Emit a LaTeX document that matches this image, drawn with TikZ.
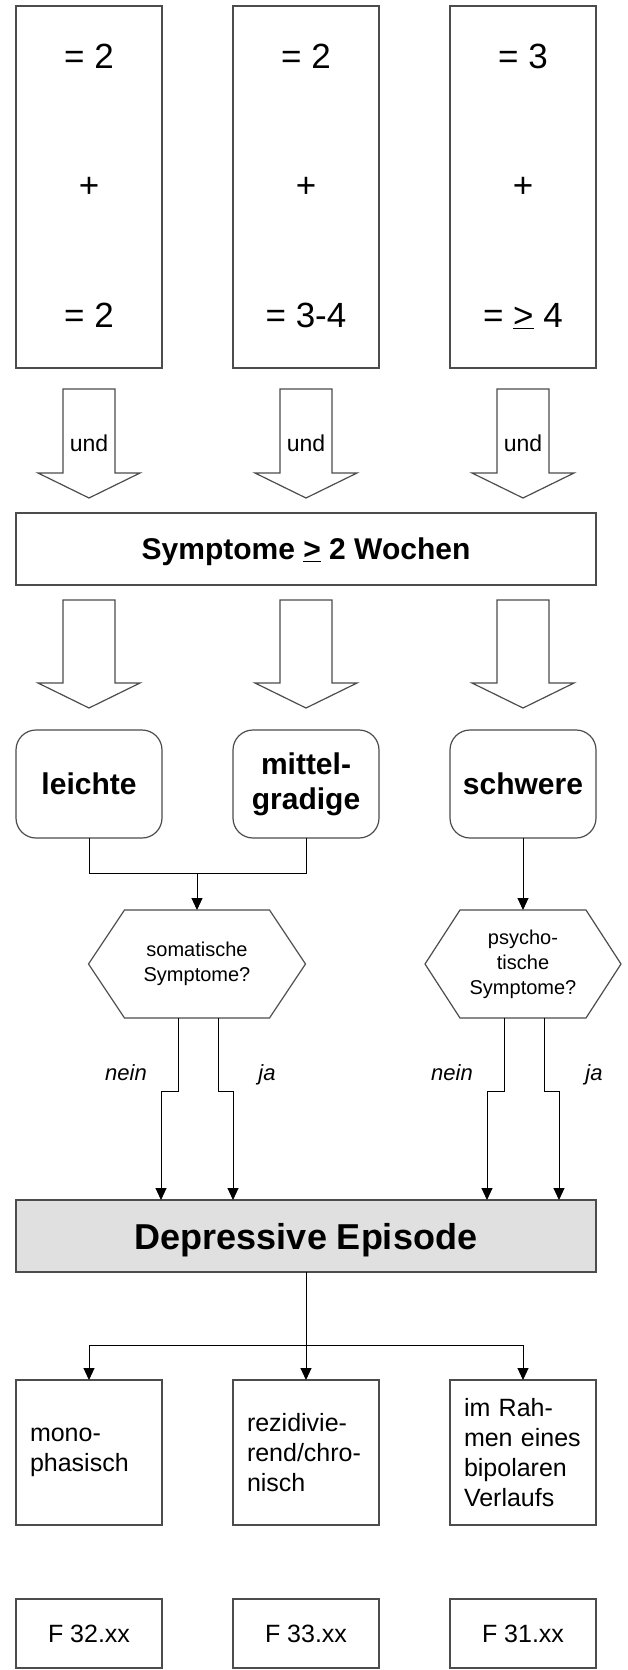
\documentclass[tikz,border=0pt]{standalone}
\usepackage{fontspec}
\setmainfont{Liberation Sans}
\usepackage{tikz}
\usetikzlibrary{arrows.meta}

% Hohlpfeil: x, oben, Kopfansatz, Spitze
\newcommand{\hohlpfeil}[4]{%
  \draw[umriss] ({#1-26},#2) -- ({#1+26},#2) -- ({#1+26},#3) -- ({#1+51},#3)
    -- (#1,#4) -- ({#1-51},#3) -- ({#1-26},#3) -- cycle;}

\tikzset{
  umriss/.style={draw=black!70, line width=1.2pt},
  kasten/.style={umriss, minimum width=146pt, inner sep=0pt, outer sep=0pt},
  zahl/.style={anchor=base, inner sep=0pt, font=\fontsize{35}{42}\selectfont},
  und/.style={inner sep=0pt, font=\fontsize{23}{28}\selectfont},
  titel/.style={font=\fontsize{30}{35}\selectfont\bfseries},
  rund/.style={kasten, titel, rounded corners=20pt, minimum height=108pt, align=center},
  frage/.style={inner sep=0pt, outer sep=0pt, minimum height=108pt, align=center,
    font=\fontsize{20}{25}\selectfont},
  antwort/.style={anchor=base, inner sep=0pt, font=\fontsize{22}{26}\selectfont\itshape},
  verlauf/.style={kasten, minimum height=145pt, text width=118pt, align=left,
    font=\fontsize{25}{30}\selectfont},
  kode/.style={kasten, minimum height=69pt, font=\fontsize{25}{30}\selectfont},
  linie/.style={draw=black, line width=1pt},
  pfeil/.style={linie, -{Triangle[length=12pt,width=11pt]}}
}

\begin{document}
\begin{tikzpicture}[x=1pt, y=-1pt]
\useasboundingbox (0,0) rectangle (628,1670);

% Kriterien
\node[kasten, minimum height=362pt] (k1) at (89,187) {};
\node[kasten, minimum height=362pt] (k2) at (306,187) {};
\node[kasten, minimum height=362pt] (k3) at (523,187) {};

\node[zahl] (k1o) at (89,68) {= 2};
\node[zahl] (k1m) at (89,197) {+};
\node[zahl] (k1u) at (89,327) {= 2};
\node[zahl] (k2o) at (306,68) {= 2};
\node[zahl] (k2m) at (306,197) {+};
\node[zahl] (k2u) at (306,327) {= 3-4};
\node[zahl] (k3o) at (523,68) {= 3};
\node[zahl] (k3m) at (523,197) {+};
\node[zahl] (k3u) at (523,327) {= \underline{>} 4};

% und-Pfeile
\hohlpfeil{89}{389}{473}{498}
\hohlpfeil{306}{389}{473}{498}
\hohlpfeil{523}{389}{473}{498}
\node[und] (u1) at (89,443) {und};
\node[und] (u2) at (306,443) {und};
\node[und] (u3) at (523,443) {und};

% Dauer
\node[kasten, titel, minimum width=580pt, minimum height=72pt, text depth=0pt]
  (dauer) at (306,549) {Symptome \underline{>} 2 Wochen};

\hohlpfeil{89}{600}{683}{708}
\hohlpfeil{306}{600}{683}{708}
\hohlpfeil{523}{600}{683}{708}

% Schweregrade
\node[rund] (leicht) at (89,784) {leichte};
\node[rund] (mittel) at (306,784) {mittel-\\gradige};
\node[rund] (schwer) at (523,784) {schwere};

% Fragen
\node[frage, minimum width=217pt] (h1) at (197,964) {somatische\\Symptome?};
\node[frage, minimum width=196pt] (h2) at (523,964) {psycho-\\tische\\Symptome?};
\draw[umriss] (h1.west) -- ([xshift=36pt]h1.north west) -- ([xshift=-36pt]h1.north east)
  -- (h1.east) -- ([xshift=-36pt]h1.south east) -- ([xshift=36pt]h1.south west) -- cycle;
\draw[umriss] (h2.west) -- ([xshift=35pt]h2.north west) -- ([xshift=-35pt]h2.north east)
  -- (h2.east) -- ([xshift=-35pt]h2.south east) -- ([xshift=35pt]h2.south west) -- cycle;

\coordinate (j1) at (197,873);
\draw[linie] (leicht.south) |- (j1) -| (mittel.south);
\draw[pfeil] (j1) -- (h1.north);
\draw[pfeil] (schwer.south) -- (h2.north);

% Depressive Episode
\node[kasten, minimum width=580pt, minimum height=72pt, fill=black!12, text depth=0pt,
  font=\fontsize{36}{42}\selectfont\bfseries] (dep) at (306,1236) {Depressive Episode};

\coordinate (n1) at (161,1091);
\coordinate (ja1) at (233,1091);
\coordinate (n2) at (487,1091);
\coordinate (ja2) at (559,1091);
\draw[pfeil] ([xshift=-19pt]h1.south) |- (n1) -- (n1 |- dep.north);
\draw[pfeil] ([xshift=21pt]h1.south) |- (ja1) -- (ja1 |- dep.north);
\draw[pfeil] ([xshift=-19pt]h2.south) |- (n2) -- (n2 |- dep.north);
\draw[pfeil] ([xshift=21pt]h2.south) |- (ja2) -- (ja2 |- dep.north);

\node[antwort] (tn1) at (126,1080) {nein};
\node[antwort] (tj1) at (267,1080) {ja};
\node[antwort] (tn2) at (452,1080) {nein};
\node[antwort] (tj2) at (594,1080) {ja};

% Verlauf
\node[verlauf] (v1) at (89,1452.5) {mono-\\phasisch};
\node[verlauf] (v2) at (306,1452.5) {rezidivie-\\rend/chro-\\nisch};
\node[verlauf] (v3) at (523,1452.5) {im Rah-\\men eines\\bipolaren\\Verlaufs};

\coordinate (g) at (306,1345);
\draw[pfeil] (dep.south) -- (v2.north);
\draw[pfeil] (g) -| (v1.north);
\draw[pfeil] (g) -| (v3.north);

% ICD-10
\node[kode] (c1) at (89,1633.5) {F 32.xx};
\node[kode] (c2) at (306,1633.5) {F 33.xx};
\node[kode] (c3) at (523,1633.5) {F 31.xx};
\end{tikzpicture}
\end{document}
